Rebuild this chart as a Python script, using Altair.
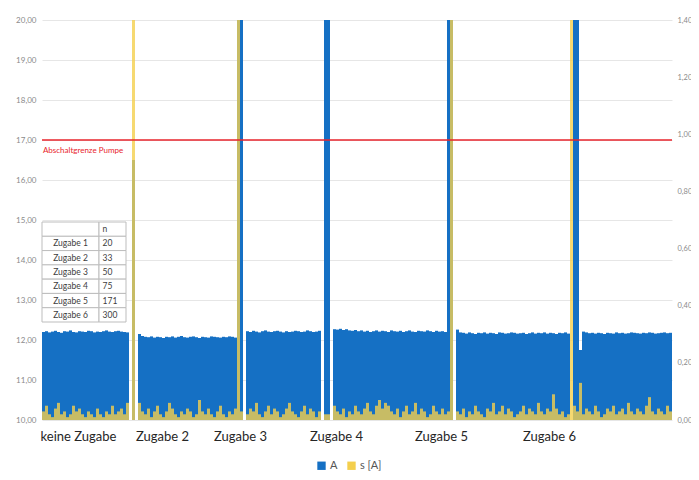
import altair as alt
import pandas as pd

FONT = "Lato"
BLUE = "#1570c4"
YELLOW = "#f4cf4d"
RED = "#e8242c"

SERIES = ["A", "s [A]"]
LIMIT = 17.0
LIMIT_LABEL = "Abschaltgrenze Pumpe"

XLAB_POS = [12, 40, 66, 98, 133, 169]
XLABELS = ["keine Zugabe", "Zugabe 2", "Zugabe 3", "Zugabe 4", "Zugabe 5", "Zugabe 6"]

TABLE_ROWS = ["", "Zugabe 1", "Zugabe 2", "Zugabe 3", "Zugabe 4", "Zugabe 5", "Zugabe 6"]
TABLE_N = ["n", "20", "33", "50", "75", "171", "300"]

# ---- series A (left axis) and s [A] (right axis), segment by segment ----
A_seg1 = [12.20, 12.22, 12.19, 12.21, 12.23, 12.20, 12.18, 12.22, 12.21, 12.24,
          12.20, 12.19, 12.22, 12.21, 12.20, 12.23, 12.22, 12.19, 12.21, 12.20,
          12.22, 12.24, 12.21, 12.20, 12.22, 12.23, 12.21, 12.20, 12.19]
S_seg1 = [0.03, 0.05, 0.02, 0.01, 0.04, 0.06, 0.02, 0.03, 0.01, 0.02,
          0.05, 0.03, 0.04, 0.02, 0.01, 0.03, 0.02, 0.01, 0.04, 0.02,
          0.01, 0.03, 0.02, 0.05, 0.02, 0.03, 0.04, 0.02, 0.06]
A_spike1 = [None, 16.5, None]
S_spike1 = [None, 1.5, None]

A_seg2 = [12.15, 12.10, 12.08, 12.07, 12.09, 12.06, 12.08, 12.07, 12.05, 12.08,
          12.07, 12.09, 12.06, 12.08, 12.10, 12.07, 12.06, 12.08, 12.09, 12.07,
          12.05, 12.08, 12.07, 12.06, 12.09, 12.08, 12.07, 12.06, 12.08, 12.07,
          12.09, 12.08, 12.06]
S_seg2 = [0.06, 0.03, 0.02, 0.04, 0.01, 0.03, 0.05, 0.02, 0.01, 0.03,
          0.06, 0.04, 0.02, 0.01, 0.03, 0.02, 0.04, 0.03, 0.01, 0.02,
          0.07, 0.03, 0.02, 0.04, 0.02, 0.01, 0.03, 0.05, 0.02, 0.01,
          0.03, 0.02, 0.04]
A_spike2 = [21.0, 21.0, None]
S_spike2 = [1.5, 0.03, None]

A_seg3 = [12.22, 12.20, 12.23, 12.21, 12.19, 12.22, 12.24, 12.21, 12.20, 12.22,
          12.23, 12.21, 12.19, 12.22, 12.20, 12.21, 12.23, 12.22, 12.20, 12.21,
          12.24, 12.22, 12.20, 12.21, 12.23]
S_seg3 = [0.02, 0.04, 0.03, 0.06, 0.02, 0.01, 0.03, 0.05, 0.02, 0.04,
          0.03, 0.01, 0.02, 0.04, 0.06, 0.03, 0.02, 0.01, 0.03, 0.05,
          0.02, 0.04, 0.03, 0.01, 0.03]
A_spike3 = [None, 21.0, 21.0, None]
S_spike3 = [None, 0.02, 0.02, None]

A_seg4 = [12.27, 12.26, 12.28, 12.25, 12.27, 12.24, 12.23, 12.25, 12.22, 12.24,
          12.21, 12.23, 12.20, 12.22, 12.24, 12.21, 12.23, 12.22, 12.20, 12.24,
          12.22, 12.21, 12.23, 12.20, 12.22, 12.24, 12.21, 12.20, 12.23, 12.22,
          12.21, 12.24, 12.22, 12.20, 12.23, 12.21, 12.22, 12.20]
S_seg4 = [0.05, 0.03, 0.02, 0.04, 0.01, 0.03, 0.02, 0.05, 0.03, 0.02,
          0.04, 0.06, 0.03, 0.02, 0.05, 0.07, 0.04, 0.06, 0.05, 0.03,
          0.02, 0.04, 0.01, 0.03, 0.05, 0.02, 0.03, 0.06, 0.02, 0.04,
          0.03, 0.01, 0.02, 0.05, 0.03, 0.02, 0.04, 0.02]
A_spike4 = [21.0, 21.0, None]
S_spike4 = [0.03, 1.5, None]

A_seg5 = [12.26, 12.19, 12.18, 12.16, 12.19, 12.17, 12.15, 12.18, 12.17, 12.19,
          12.16, 12.18, 12.17, 12.15, 12.19, 12.18, 12.16, 12.17, 12.19, 12.18,
          12.16, 12.17, 12.18, 12.15, 12.17, 12.19, 12.16, 12.18, 12.17, 12.19,
          12.16, 12.18, 12.17, 12.15, 12.18, 12.17, 12.19, 12.16]
S_seg5 = [0.03, 0.02, 0.04, 0.01, 0.03, 0.02, 0.05, 0.03, 0.02, 0.01,
          0.04, 0.03, 0.06, 0.02, 0.03, 0.05, 0.02, 0.04, 0.03, 0.01,
          0.02, 0.03, 0.05, 0.02, 0.04, 0.03, 0.02, 0.06, 0.03, 0.02,
          0.04, 0.03, 0.09, 0.04, 0.02, 0.03, 0.01, 0.02]
A_spike5 = [None, 21.0, 21.0, 11.75]
S_spike5 = [1.5, 0.05, 0.03, 0.13]

A_seg6 = [12.21, 12.19, 12.17, 12.18, 12.16, 12.18, 12.17, 12.15, 12.18, 12.17,
          12.16, 12.19, 12.17, 12.18, 12.16, 12.17, 12.19, 12.18, 12.17, 12.16,
          12.18, 12.17, 12.19, 12.18, 12.16, 12.17, 12.18, 12.19, 12.17, 12.18]
S_seg6 = [0.02, 0.04, 0.03, 0.02, 0.05, 0.03, 0.01, 0.02, 0.04, 0.03,
          0.05, 0.02, 0.03, 0.04, 0.02, 0.06, 0.03, 0.02, 0.04, 0.03,
          0.02, 0.05, 0.08, 0.03, 0.02, 0.04, 0.03, 0.02, 0.05, 0.03]

A_all = (A_seg1 + A_spike1 + A_seg2 + A_spike2 + A_seg3 + A_spike3 +
         A_seg4 + A_spike4 + A_seg5 + A_spike5 + A_seg6)
S_all = (S_seg1 + S_spike1 + S_seg2 + S_spike2 + S_seg3 + S_spike3 +
         S_seg4 + S_spike4 + S_seg5 + S_spike5 + S_seg6)
N = len(A_all)

df = pd.DataFrame({"i0": list(range(N)), "i1": list(range(1, N + 1)),
                   "A": A_all, "s": S_all})
dfA = df[["i0", "i1", "A"]].dropna().assign(series=SERIES[0])
dfS = df[["i0", "i1", "s"]].dropna().assign(series=SERIES[1])

xsc = alt.Scale(domain=[0, N], nice=False, zero=False)
ysc_l = alt.Scale(domain=[10, 20], nice=False, zero=False, clamp=True)
ysc_r = alt.Scale(domain=[0, 1.4], nice=False, zero=False, clamp=True)

comma = "replace(format(datum.value, '.2f'), '.', ',')"

lab_expr = "''"
for p, t in reversed(list(zip(XLAB_POS, XLABELS))):
    lab_expr = f"datum.value == {p} ? '{t}' : ({lab_expr})"

x_axis = alt.Axis(values=XLAB_POS, labelExpr=lab_expr, grid=False, ticks=False,
                  domain=False, labelFontSize=13, labelColor="#262626",
                  labelPadding=10, labelOverlap=False, labelFlush=False,
                  title=None, labelFont=FONT)
y_axis_l = alt.Axis(values=list(range(10, 21)), labelExpr=comma, grid=True,
                    gridColor="#e6e6e6", domain=False, ticks=False,
                    labelFontSize=8, labelColor="#8a8a8a", labelPadding=6,
                    title=None, labelFont=FONT)
y_axis_r = alt.Axis(values=[0, 0.2, 0.4, 0.6, 0.8, 1.0, 1.2, 1.4], orient="right",
                    labelExpr=comma, grid=False, domain=False, ticks=False,
                    labelFontSize=7.5, labelColor="#8a8a8a", labelPadding=5,
                    title=None, labelFont=FONT)

color = alt.Color("series:N",
                  scale=alt.Scale(domain=SERIES, range=[BLUE, YELLOW]),
                  legend=alt.Legend(orient="none", legendX=274, legendY=440,
                                    direction="horizontal", title=None,
                                    symbolType="square", symbolSize=70,
                                    symbolOpacity=1, symbolStrokeWidth=0,
                                    labelFontSize=11, labelColor="#555555",
                                    labelFont=FONT, columnPadding=8, padding=0,
                                    labelOffset=3))

A_bars = alt.Chart(dfA).mark_bar().encode(
    x=alt.X("i0:Q", scale=xsc, axis=x_axis), x2="i1:Q",
    y=alt.Y("A:Q", scale=ysc_l, axis=y_axis_l), y2=alt.datum(10),
    color=color)

S_bars = alt.Chart(dfS).mark_bar(opacity=0.8).encode(
    x=alt.X("i0:Q", scale=xsc, axis=x_axis), x2="i1:Q",
    y=alt.Y("s:Q", scale=ysc_r, axis=y_axis_r), y2=alt.datum(0),
    color=color)

# overlay: limit line, its label and the small table (all in left-axis units)
rule = alt.Chart(pd.DataFrame({"y": [LIMIT]})).mark_rule(
    color=RED, strokeWidth=1.5).encode(y=alt.Y("y:Q", scale=ysc_l, axis=None))

limit_text = alt.Chart(pd.DataFrame({"x": [0.3], "y": [16.72], "t": [LIMIT_LABEL]})).mark_text(
    align="left", baseline="middle", fontSize=8, color=RED, font=FONT).encode(
    x=alt.X("x:Q", scale=xsc, axis=x_axis), y=alt.Y("y:Q", scale=ysc_l, axis=None),
    text="t:N")

tab_top, tab_bot = 14.95, 12.45
row_h = (tab_top - tab_bot) / len(TABLE_ROWS)
cells, t1, t2 = [], [], []
for r, (name, n) in enumerate(zip(TABLE_ROWS, TABLE_N)):
    yt = tab_top - r * row_h
    yb = yt - row_h
    cells.append({"x0": 0, "x1": 19, "y0": yt, "y1": yb})
    cells.append({"x0": 19, "x1": 28, "y0": yt, "y1": yb})
    t1.append({"x": 9.5, "y": (yt + yb) / 2, "t": name})
    t2.append({"x": 20.2, "y": (yt + yb) / 2, "t": n})

table_rects = alt.Chart(pd.DataFrame(cells)).mark_rect(
    fill="white", stroke="#bdbdbd", strokeWidth=1).encode(
    x=alt.X("x0:Q", scale=xsc, axis=x_axis), x2="x1:Q",
    y=alt.Y("y0:Q", scale=ysc_l, axis=None), y2="y1:Q")

text1 = alt.Chart(pd.DataFrame(t1)).mark_text(
    align="center", baseline="middle", fontSize=8.5, color="#404040", font=FONT).encode(
    x=alt.X("x:Q", scale=xsc, axis=x_axis), y=alt.Y("y:Q", scale=ysc_l, axis=None),
    text="t:N")
text2 = alt.Chart(pd.DataFrame(t2)).mark_text(
    align="left", baseline="middle", fontSize=8.5, color="#404040", font=FONT).encode(
    x=alt.X("x:Q", scale=xsc, axis=x_axis), y=alt.Y("y:Q", scale=ysc_l, axis=None),
    text="t:N")

overlay = alt.layer(rule, limit_text, table_rects, text1, text2)

chart = alt.layer(A_bars, S_bars, overlay).resolve_scale(y="independent").properties(
    width=630, height=400,
    autosize=alt.AutoSizeParams(type="none"),
    padding={"left": 34, "top": 12, "right": 19, "bottom": 52},
).configure_view(stroke=None)

chart.save("out.html", embed_options={"renderer": "svg", "actions": False})
